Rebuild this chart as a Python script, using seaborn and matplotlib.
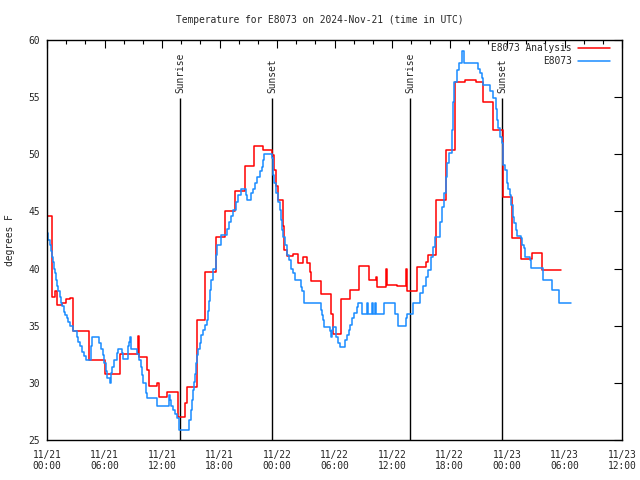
import matplotlib
matplotlib.use("Agg")
import matplotlib.pyplot as plt
import matplotlib.ticker as ticker
import pandas as pd
import seaborn as sns

# hours since 2024-11-21 00:00 UTC
analysis_hours = [0.0, 0.52, 0.83, 1.0, 1.6, 2.0, 2.4, 2.68, 4.41, 6.05,
                  7.62, 9.5, 9.6, 10.43, 10.64, 11.45, 11.66, 12.55, 13.7, 14.4,
                  14.64, 15.62, 16.49, 17.6, 18.57, 19.62, 20.66, 21.6, 22.57, 23.51,
                  23.69, 23.9, 24.1, 24.6, 24.73, 25.04, 25.7, 26.23, 26.68, 27.16,
                  27.44, 27.58, 28.56, 29.6, 29.81, 30.65, 31.62, 32.56, 33.6, 34.33,
                  34.47, 35.34, 35.51, 36.55, 37.46, 37.6, 38.58, 39.55, 39.79, 40.56,
                  41.6, 42.58, 43.62, 44.77, 45.47, 46.51, 47.55, 48.49, 49.43, 50.58,
                  51.62, 52.56, 53.6]
analysis_temp = [44.6, 37.5, 38.0, 36.8, 37.0, 37.3, 37.4, 34.5, 32.0, 30.8,
                 32.5, 34.1, 32.3, 31.1, 29.7, 30.0, 28.8, 29.2, 27.0, 28.2,
                 29.6, 35.5, 39.7, 42.8, 45.0, 46.8, 49.0, 50.7, 50.4, 49.9,
                 48.6, 47.2, 46.0, 43.7, 41.6, 41.1, 41.25, 40.5, 41.0, 40.5,
                 39.7, 38.9, 37.75, 36.0, 34.3, 37.3, 38.1, 40.2, 39.0, 39.3,
                 38.4, 40.0, 38.6, 38.5, 40.0, 38.0, 40.1, 40.6, 41.2, 46.0,
                 50.4, 56.35, 56.5, 56.35, 54.6, 52.1, 46.3, 42.7, 40.8, 41.4,
                 39.9, 39.85, 39.85]

obs_hours = [0.00, 0.10, 0.31, 0.42, 0.52, 0.63, 0.73, 0.83, 0.94, 1.04,
             1.15, 1.36, 1.46, 1.57, 1.77, 1.88, 2.09, 2.19, 2.40, 2.68,
             3.13, 3.23, 3.44, 3.65, 3.86, 4.07, 4.56, 4.73, 5.43, 5.63,
             5.81, 5.95, 6.16, 6.29, 6.57, 6.68, 6.78, 6.99, 7.27, 7.41,
             7.83, 7.93, 8.45, 8.56, 8.66, 8.77, 9.42, 9.60, 9.81, 9.91,
             10.02, 10.33, 10.43, 11.45, 12.76, 12.84, 12.94, 13.12, 13.36, 13.57,
             13.81, 14.85, 14.99, 15.10, 15.20, 15.31, 15.44, 15.55, 15.65, 15.79,
             15.97, 16.07, 16.28, 16.49, 16.70, 16.80, 16.90, 17.01, 17.11, 17.32,
             17.60, 17.74, 18.13, 18.78, 18.99, 19.20, 19.41, 19.72, 19.93, 20.24,
             20.77, 20.87, 21.29, 21.50, 21.71, 21.91, 22.23, 22.43, 22.54, 22.68,
             23.48, 23.55, 23.61, 23.72, 23.90, 24.10, 24.28, 24.42, 24.52, 24.66,
             24.84, 25.04, 25.25, 25.46, 25.67, 25.88, 26.50, 26.64, 26.79, 26.85,
             28.56, 28.70, 28.80, 28.94, 29.53, 29.60, 29.71, 29.84, 30.16, 30.37,
             30.57, 31.10, 31.31, 31.48, 31.65, 31.83, 32.04, 32.32, 32.48, 32.84,
             33.39, 33.50, 33.91, 34.05, 34.23, 34.33, 35.20, 36.31, 36.66, 37.46,
             37.60, 38.22, 38.92, 39.24, 39.55, 39.76, 40.07, 40.28, 40.46, 41.01,
             41.22, 41.43, 41.60, 41.77, 41.95, 42.23, 42.37, 42.47, 42.75, 42.96,
             43.27, 43.48, 44.97, 45.18, 45.39, 45.53, 46.23, 46.54, 46.85, 46.93,
             47.09, 47.24, 47.45, 47.58, 47.79, 47.97, 48.11, 48.28, 48.42, 48.60,
             48.74, 48.94, 49.08, 49.43, 49.57, 49.75, 49.85, 50.40, 50.54, 51.79,
             52.67, 53.40, 54.68]
obs_temp = [43.1, 42.5, 42.1, 41.5, 41.0, 40.6, 40.0, 39.6, 39.0, 38.5,
            38.0, 37.5, 37.0, 36.7, 36.2, 35.9, 35.7, 35.3, 35.0, 34.5,
            34.0, 33.6, 33.2, 32.7, 32.35, 32.0, 33.2, 34.0, 33.5, 33.0,
            32.4, 31.7, 31.0, 30.4, 30.0, 30.9, 31.4, 32.0, 32.6, 33.0,
            32.6, 32.1, 33.2, 33.6, 34.0, 33.0, 32.5, 32.0, 31.4, 30.7,
            30.0, 29.1, 28.7, 28.0, 28.9, 28.5, 28.0, 27.6, 27.25, 26.9,
            25.9, 26.75, 27.6, 28.5, 29.4, 30.1, 30.8, 31.7, 32.4, 33.0,
            33.5, 34.2, 34.6, 35.05, 35.5, 36.3, 37.2, 38.1, 39.0, 40.0,
            41.2, 42.1, 42.9, 43.5, 44.1, 44.6, 45.1, 45.85, 46.4, 47.0,
            46.4, 46.0, 46.6, 47.0, 47.5, 48.0, 48.5, 48.9, 49.5, 50.0,
            49.65, 48.9, 48.2, 47.5, 46.6, 45.85, 45.1, 44.25, 43.4, 42.8,
            42.1, 41.2, 40.75, 40.0, 39.6, 39.0, 38.4, 38.0, 37.5, 37.0,
            36.4, 35.9, 35.5, 34.9, 34.5, 34.0, 34.6, 34.9, 34.0, 33.5,
            33.1, 33.75, 34.2, 34.6, 35.1, 35.65, 36.1, 36.6, 36.95, 36.0,
            36.95, 36.0, 36.95, 36.0, 36.95, 36.0, 36.95, 36.0, 35.0, 35.65,
            36.0, 36.95, 37.85, 38.5, 39.3, 39.9, 41.0, 41.9, 42.8, 44.1,
            45.4, 46.6, 48.0, 49.2, 50.1, 52.1, 54.6, 56.35, 57.4, 58.0,
            59.0, 58.0, 57.5, 57.1, 56.65, 56.05, 55.5, 54.9, 54.0, 53.0,
            52.3, 51.5, 50.95, 49.1, 48.6, 47.5, 47.0, 46.4, 45.55, 44.5,
            44.0, 43.4, 42.85, 42.65, 42.1, 41.8, 41.0, 40.75, 40.05, 39.0,
            38.1, 36.95, 36.95]

sun_hours = [13.88, 23.48, 37.88, 47.48]
sun_labels = ["Sunrise", "Sunset", "Sunrise", "Sunset"]

tick_hours = list(range(0, 61, 6))
tick_labels = ["11/21\n00:00", "11/21\n06:00", "11/21\n12:00", "11/21\n18:00",
               "11/22\n00:00", "11/22\n06:00", "11/22\n12:00", "11/22\n18:00",
               "11/23\n00:00", "11/23\n06:00", "11/23\n12:00"]

FS = 6.9

sns.set_style("white")
plt.rcParams['font.family'] = ['DejaVu Sans Mono', 'DejaVu Sans']
plt.rcParams['font.size'] = FS

fig = plt.figure(figsize=(6.4, 4.8), dpi=100)
ax = fig.add_axes([47 / 640, 40 / 480, 575 / 640, 400 / 480])

ax.vlines(sun_hours, 25, 54.9, color='black', linewidth=1.0)
for h, lab in zip(sun_hours, sun_labels):
    ax.text(h, 55.4, lab, rotation=90, ha='center', va='bottom', fontsize=FS)

df_an = pd.DataFrame({'hour': analysis_hours, 'temp': analysis_temp})
df_ob = pd.DataFrame({'hour': obs_hours, 'temp': obs_temp})
sns.lineplot(data=df_an, x='hour', y='temp', ax=ax, color='#ff0000',
             linewidth=1.1, drawstyle='steps-post', estimator=None,
             label='E8073 Analysis')
sns.lineplot(data=df_ob, x='hour', y='temp', ax=ax, color='#1a8cff',
             linewidth=1.1, drawstyle='steps-post', estimator=None,
             label='E8073')

ax.set_xlim(0, 60)
ax.set_ylim(25, 60)
ax.set_xticks(tick_hours)
ax.set_xticklabels(tick_labels)
ax.xaxis.set_minor_locator(ticker.MultipleLocator(2))
ax.yaxis.set_major_locator(ticker.MultipleLocator(5))
ax.tick_params(which='both', direction='in', top=True, right=True,
               color='black', width=0.8, labelsize=FS)
ax.tick_params(which='major', length=6)
ax.tick_params(which='minor', length=3)
ax.tick_params(axis='x', pad=7)
ax.tick_params(axis='y', pad=5)
for sp in ax.spines.values():
    sp.set_color('black')
    sp.set_linewidth(1.0)

ax.set_xlabel('')
ax.set_ylabel('degrees F', fontsize=FS)
ax.yaxis.set_label_coords(-0.056, 0.5)
fig.text(0.5, 1 - 20 / 480, 'Temperature for E8073 on 2024-Nov-21 (time in UTC)',
         ha='center', va='center', fontsize=FS)

ax.legend(loc='upper right', markerfirst=False, frameon=False,
          bbox_to_anchor=((610 - 47) / 575, (440 - 43) / 400),
          handlelength=3.3, handletextpad=0.7, labelspacing=0.3,
          borderaxespad=0, borderpad=0, fontsize=FS)

fig.savefig('out.png', dpi=100)
